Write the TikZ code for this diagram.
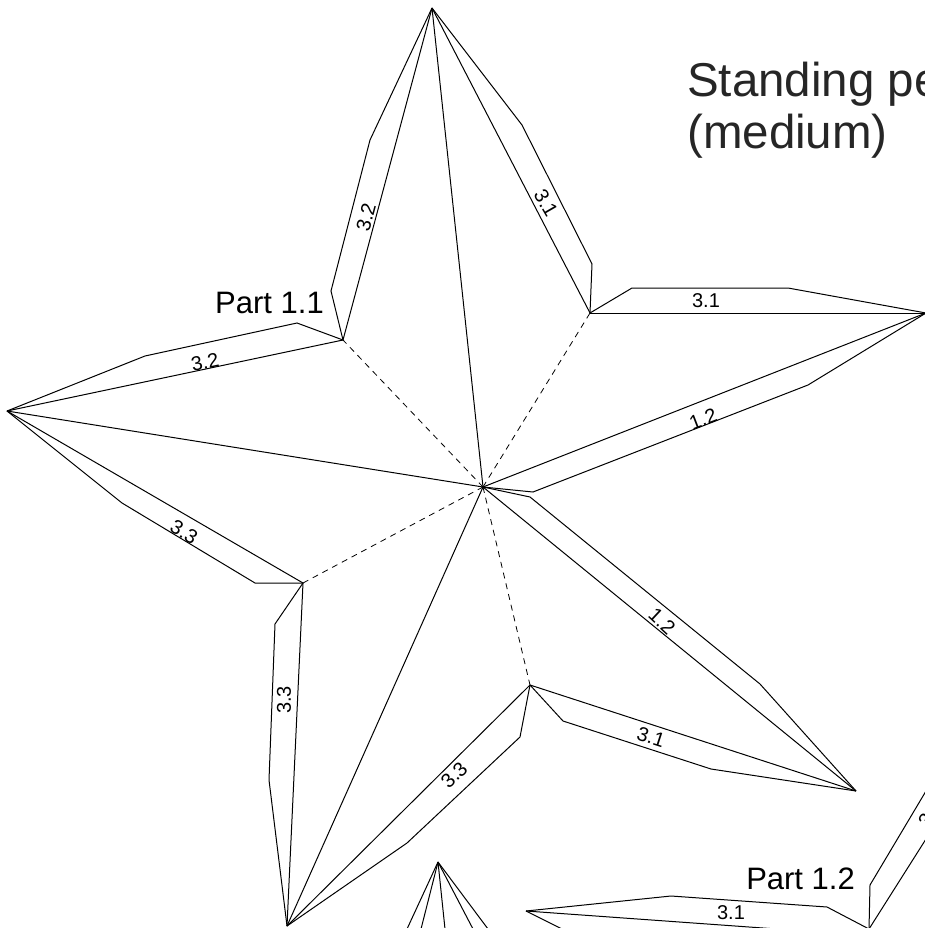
\documentclass[tikz,border=0pt]{standalone}
\usepackage{fontspec}
\setmainfont{Liberation Sans}
\tikzset{
  edge/.style={draw=black,line width=1pt,line join=miter,miter limit=10},
  fold/.style={draw=black,line width=0.8pt,dash pattern=on 6pt off 5pt},
  lab/.style={font=\fontsize{20}{20}\selectfont,inner sep=0pt,anchor=center},
  partlab/.style={font=\fontsize{31}{31}\selectfont,inner sep=0pt,anchor=base east},
  titlelab/.style={font=\fontsize{47.5}{47.5}\selectfont,text=black!85,inner sep=0pt,anchor=base west}
}
\begin{document}
\begin{tikzpicture}[x=1pt,y=-1pt]
\useasboundingbox (0,0) rectangle (925,928);
\clip (0,0) rectangle (925,928);
\coordinate (C) at (483,487);
\coordinate (T1) at (432,8);
\coordinate (T2) at (926,313);
\coordinate (T3) at (856,791);
\coordinate (T4) at (287,926);
\coordinate (T5) at (7,411);
\coordinate (V1) at (343,340);
\coordinate (V2) at (590,313);
\coordinate (V3) at (530,685);
\coordinate (V4) at (303,583);
% folds
\draw[fold] (C) -- (V1);
\draw[fold] (C) -- (V2);
\draw[fold] (C) -- (V3);
\draw[fold] (C) -- (V4);
% ridges
\foreach \t in {T1,T2,T3,T4,T5} \draw[edge] (C) -- (\t);
% star outline with flaps
\draw[edge] (T1) -- (V1);
\draw[edge] (T1) -- (370,140) -- (331,291) -- (V1);
\draw[edge] (T1) -- (V2);
\draw[edge] (T1) -- (522,125) -- (592,264) -- (V2);
\draw[edge] (V2) -- (T2);
\draw[edge] (V2) -- (632,288) -- (788,288) -- (T2);
\draw[edge] (T2) -- (808,385) -- (533,492) -- (C);
\draw[edge] (C) -- (530,497) -- (760,684) -- (T3);
\draw[edge] (T3) -- (V3);
\draw[edge] (T3) -- (711,769) -- (563,721) -- (V3);
\draw[edge] (V3) -- (T4);
\draw[edge] (V3) -- (520,737) -- (407,843) -- (T4);
\draw[edge] (T4) -- (V4);
\draw[edge] (T4) -- (269,780) -- (275,624) -- (V4);
\draw[edge] (V4) -- (T5);
\draw[edge] (V4) -- (255,583) -- (122,503) -- (T5);
\draw[edge] (T5) -- (V1);
\draw[edge] (T5) -- (145,356) -- (297,323) -- (V1);
% second star fragment
\coordinate (A1) at (438,862);
\foreach \x in {407,421,445,473,488} \draw[edge] (A1) -- (\x,929);
\coordinate (A2) at (526,911);
\coordinate (A3) at (869,929);
\draw[edge] (A2) -- (671,896) -- (827,907) -- (A3);
\draw[edge] (A2) -- (777,929);
\draw[edge] (A2) -- (562,929);
\draw[edge] (A3) -- (870,885) -- (926,791);
\draw[edge] (A3) -- (926,839);
% labels
\node[lab,rotate=75] (l1) at (366,217) {3.2};
\node[lab,rotate=-60] (l2) at (546,203) {3.1};
\node[lab] (l3) at (706,301) {3.1};
\node[lab,rotate=21] (l4) at (703,419) {1.2};
\node[lab,rotate=-43] (l5) at (662,621) {1.2};
\node[lab,rotate=-18] (l6) at (651,737) {3.1};
\node[lab,rotate=44] (l7) at (454,775) {3.3};
\node[lab,rotate=90] (l8) at (284,700) {3.3};
\node[lab,rotate=-31] (l9) at (184,532) {3.3};
\node[lab,rotate=12] (l10) at (205,362) {3.2};
\node[lab] (l11) at (731,913) {3.1};
\node[lab,rotate=58] (l12) at (926,820) {3};
\node[partlab] (p1) at (324,313) {Part 1.1};
\node[partlab] (p2) at (855,889) {Part 1.2};
\node[titlelab] (t1) at (687,97) {Standing pe};
\node[titlelab] (t2) at (687,149) {(medium)};
\end{tikzpicture}
\end{document}
